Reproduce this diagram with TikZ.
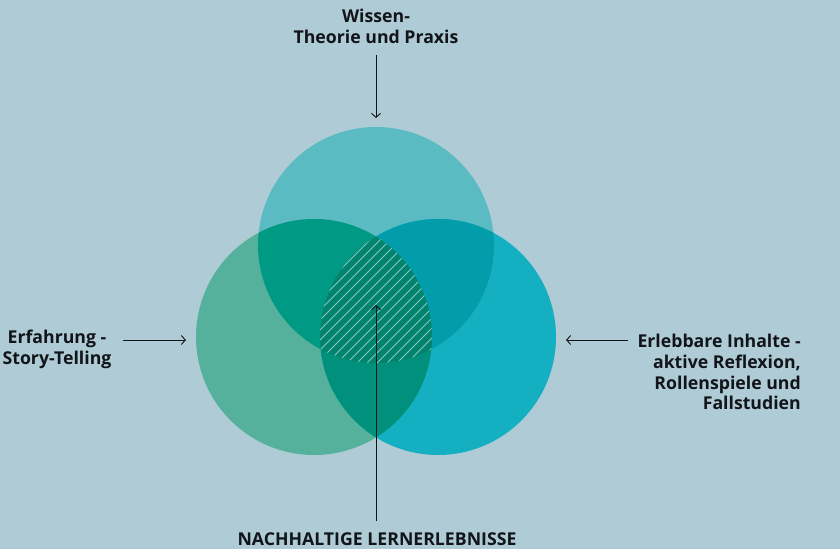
\documentclass[tikz,border=0pt]{standalone}
\usepackage{fontspec}
\setmainfont{Open Sans}
\usetikzlibrary{arrows.meta}
\definecolor{bg}{HTML}{AFCCD6}
\definecolor{ctop}{HTML}{5BBBC3}
\definecolor{cleft}{HTML}{56B19C}
\definecolor{cright}{HTML}{14AFC1}
\definecolor{clt}{HTML}{009A84}
\definecolor{ctr}{HTML}{029CAB}
\definecolor{clr}{HTML}{00907C}
\definecolor{cmid}{HTML}{00846F}
\definecolor{txt}{HTML}{111418}
\tikzset{
  lbl/.style={font=\fontsize{17.7}{20.8}\selectfont\bfseries, text=txt, inner sep=0pt},
  arr/.style={draw=txt, line width=0.9pt, -{Straight Barb[length=4pt,width=9pt]}},
}
\begin{document}
\begin{tikzpicture}[x=1pt,y=-1pt]
\fill[bg] (0,0) rectangle (840,549);
\useasboundingbox (0,0) rectangle (840,549);
\def\R{118}
\coordinate (T) at (376,245);
\coordinate (L) at (314,337);
\coordinate (Rc) at (438,337);
% circles
\fill[ctop] (T) circle (\R);
\fill[cleft] (L) circle (\R);
\fill[cright] (Rc) circle (\R);
\begin{scope}
  \clip (L) circle (\R);
  \fill[clt] (T) circle (\R);
\end{scope}
\begin{scope}
  \clip (T) circle (\R);
  \fill[ctr] (Rc) circle (\R);
\end{scope}
\begin{scope}
  \clip (L) circle (\R);
  \fill[clr] (Rc) circle (\R);
\end{scope}
\begin{scope}
  \clip (L) circle (\R);
  \clip (T) circle (\R);
  \clip (Rc) circle (\R);
  \fill[cmid] (200,150) rectangle (550,450);
  \foreach \k in {-30,...,40} {
    \draw[white, opacity=0.55, line width=0.8pt] (200+\k*10,400) -- (400+\k*10,200);
  }
\end{scope}
% labels
\node[lbl, align=center] (wissen) at (376,26) {Wissen-\\Theorie und Praxis};
\node[lbl, align=center] (erf) at (57,349) {Erfahrung -\\Story-Telling};
\node[lbl, align=right, anchor=east] (erl) at (801,372) {Erlebbare Inhalte -\\aktive Reflexion,\\Rollenspiele und\\Fallstudien};
\node[lbl] (nach) at (377,539) {NACHHALTIGE LERNERLEBNISSE};
% connectors
\coordinate (tA) at (376,55);
\coordinate (tB) at (376,118);
\coordinate (lA) at (123,340);
\coordinate (lB) at (186,340);
\coordinate (rA) at (628,340);
\coordinate (rB) at (566,340);
\coordinate (bA) at (376,521);
\coordinate (bB) at (376,305);
\draw[arr] (tA) -- (tB);
\draw[arr] (lA) -- (lB);
\draw[arr] (rA) -- (rB);
\draw[arr] (bA) -- (bB);
\end{tikzpicture}
\end{document}
